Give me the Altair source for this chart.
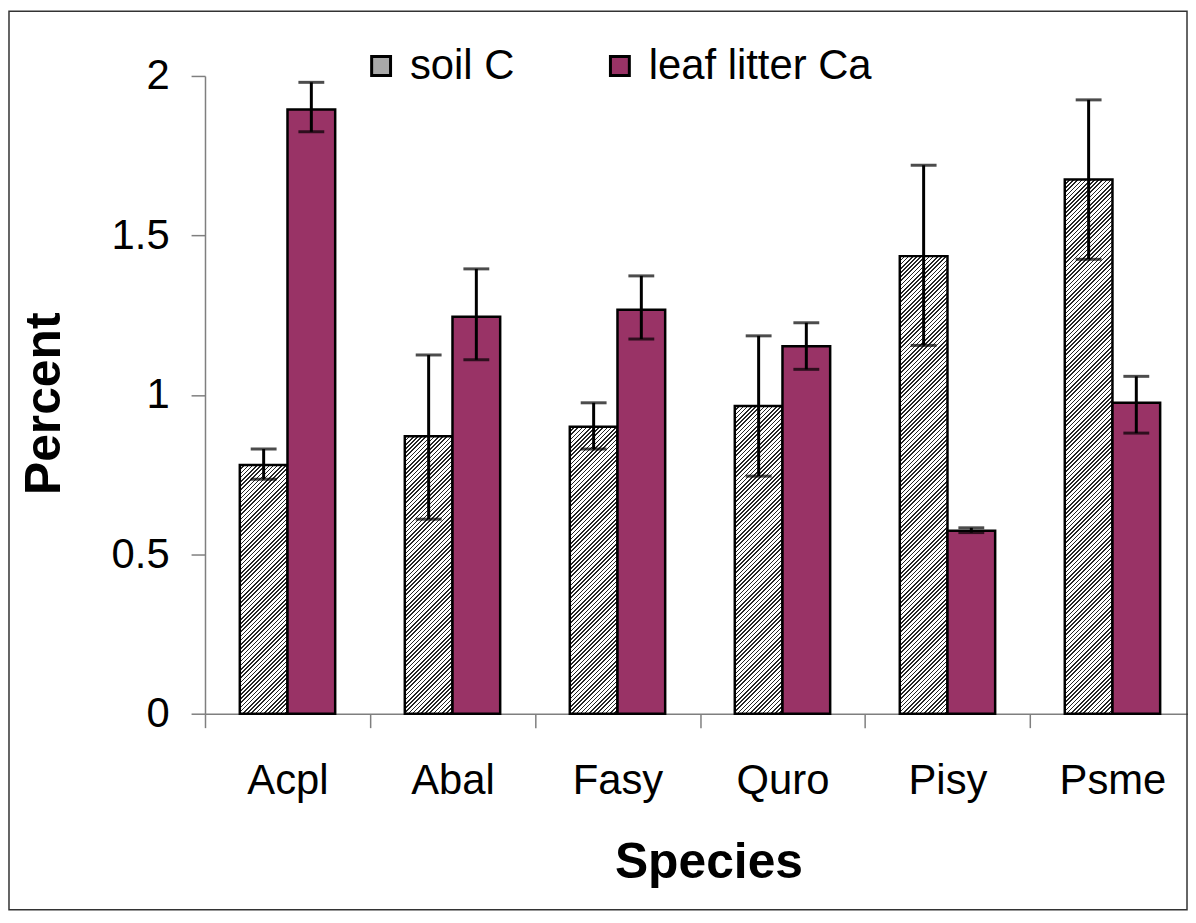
import altair as alt
import pandas as pd

species = ["Acpl", "Abal", "Fasy", "Quro", "Pisy", "Psme"]
series = ["soil C", "leaf litter Ca"]

soil = [0.78, 0.87, 0.90, 0.965, 1.435, 1.675]
soil_lo = [0.735, 0.61, 0.83, 0.745, 1.155, 1.425]
soil_hi = [0.83, 1.125, 0.975, 1.185, 1.72, 1.925]

leaf = [1.895, 1.245, 1.267, 1.152, 0.574, 0.975]
leaf_lo = [1.825, 1.11, 1.175, 1.08, 0.568, 0.88]
leaf_hi = [1.98, 1.395, 1.373, 1.226, 0.583, 1.058]

y_ticks = [0, 0.5, 1, 1.5, 2]

# layout / style
W, H = 988, 641
XR = 995            # band range (last band extends past the cropped edge)
PO = 0.73           # outer padding of the pair inside each category
FONT = "Liberation Sans"
PURPLE = "#993366"
AXIS_GRAY = "#7f7f7f"
HATCH_P, HATCH_D = 4.2, 1.6

rows = []
for i, s in enumerate(species):
    rows.append(dict(species=s, series=series[0], value=soil[i], lo=soil_lo[i], hi=soil_hi[i]))
    rows.append(dict(species=s, series=series[1], value=leaf[i], lo=leaf_lo[i], hi=leaf_hi[i]))
df = pd.DataFrame(rows)

x_enc = alt.X(
    "species:N",
    sort=species,
    scale=alt.Scale(domain=species, range=[0, XR], paddingInner=0, paddingOuter=0),
    axis=alt.Axis(
        title="Species", titleFont=FONT, titleFontSize=50, titleFontWeight="bold",
        titleColor="black", titleX=506, titleY=165, titleBaseline="alphabetic",
        titleAnchor="middle", titleAlign="center",
        labelFont=FONT, labelFontSize=42, labelColor="black", labelAngle=0,
        labelPadding=33, tickBand="extent", tickSize=14, tickColor=AXIS_GRAY,
        tickWidth=1.5, domainColor=AXIS_GRAY, domainWidth=1.5,
    ),
)
xo_enc = alt.XOffset(
    "series:N", sort=series,
    scale=alt.Scale(domain=series, paddingInner=0, paddingOuter=PO),
)
y_axis = alt.Axis(
    values=y_ticks, format="~g", grid=False,
    title="Percent", titleFont=FONT, titleFontSize=50, titleFontWeight="bold",
    titleColor="black", titleX=-146, titleY=329, titleBaseline="alphabetic",
    titleAlign="center", titleAngle=-90,
    labelFont=FONT, labelFontSize=42, labelColor="black", labelPadding=22,
    labelBaseline="middle",
    tickSize=14, tickColor=AXIS_GRAY, tickWidth=1.5,
    domainColor=AXIS_GRAY, domainWidth=1.5,
)
y_scale = alt.Scale(domain=[0, 2], nice=False, zero=True)

# hatch gradient for each soil bar (depends on bar pixel size so stripes are 45 deg)
band = XR / len(species)
bw = band / (2 + 2 * PO)


def hatch(v):
    h = v * H / 2.0
    c = bw / (bw * bw + h * h)
    stops = []
    k = 0
    while k * HATCH_P < bw + h + HATCH_P:
        a = min(1.0, k * HATCH_P * c)
        b = min(1.0, (k * HATCH_P + HATCH_D) * c)
        stops += [
            {"offset": a, "color": "#ffffff"},
            {"offset": a, "color": "#262626"},
            {"offset": b, "color": "#262626"},
            {"offset": b, "color": "#ffffff"},
        ]
        k += 1
    return {"gradient": "linear", "x1": 0, "y1": 0, "x2": 1, "y2": h / bw, "stops": stops}


layers = []
for i, s in enumerate(species):
    sub = df[(df.series == series[0]) & (df.species == s)]
    layers.append(
        alt.Chart(sub).mark_bar(fill=hatch(soil[i]), stroke="black", strokeWidth=2.5)
        .encode(x=x_enc, xOffset=xo_enc, y=alt.Y("value:Q", scale=y_scale, axis=y_axis))
    )

leaf_df = df[df.series == series[1]]
layers.append(
    alt.Chart(leaf_df).mark_bar(stroke="black", strokeWidth=2.5)
    .encode(
        x=x_enc, xOffset=xo_enc,
        y=alt.Y("value:Q", scale=y_scale, axis=y_axis),
        color=alt.Color(
            "series:N",
            scale=alt.Scale(domain=series, range=["#a9a9a9", PURPLE]),
            legend=alt.Legend(
                orient="none", legendX=156, legendY=-31, direction="horizontal",
                title=None, symbolType="square", symbolSize=361,
                symbolStrokeColor="black", symbolStrokeWidth=3,
                labelFont=FONT, labelFontSize=42, labelColor="black",
                labelOffset=8, labelLimit=0, columnPadding=84, padding=0,
            ),
        ),
    )
)

layers.append(
    alt.Chart(df).mark_rule(color="black", strokeWidth=3)
    .encode(x=x_enc, xOffset=xo_enc, y=alt.Y("lo:Q", scale=y_scale), y2="hi:Q")
)
for fld in ["lo", "hi"]:
    layers.append(
        alt.Chart(df).mark_tick(color="black", thickness=3, size=26, orient="horizontal")
        .encode(x=x_enc, xOffset=xo_enc, y=alt.Y(f"{fld}:Q", scale=y_scale))
    )

# outer frame of the figure
layers.append(
    alt.Chart(df.head(1)).mark_rect(fillOpacity=0, stroke="#333333", strokeWidth=1.5)
    .encode(x=alt.value(-197), x2=alt.value(W - 1), y=alt.value(-65), y2=alt.value(H + 197))
)

chart = alt.layer(*layers).properties(
    width=W, height=H,
    padding={"left": 198, "top": 66, "right": 0, "bottom": 198},
    autosize=alt.AutoSizeParams(type="none"),
).configure_view(stroke=None)

chart.save("out.html", embed_options={"renderer": "svg", "actions": False})
